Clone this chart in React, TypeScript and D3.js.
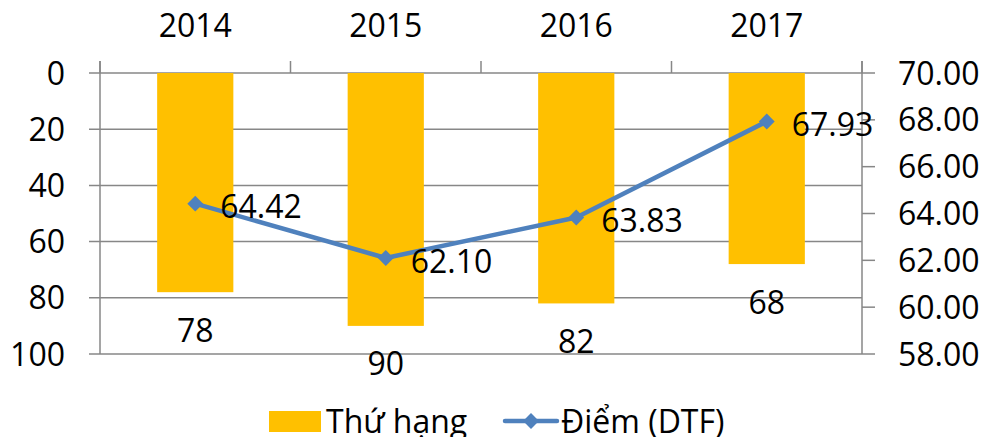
import * as d3 from "d3";
import React, { useEffect, useRef } from "react";

const years = ["2014", "2015", "2016", "2017"];
const ranks = [78, 90, 82, 68];
const scores = [64.42, 62.1, 63.83, 67.93];
const leftTicks = [0, 20, 40, 60, 80, 100];
const rightTicks = [58, 60, 62, 64, 66, 68, 70];

const App: React.FC = () => {
  const svgRef = useRef<SVGSVGElement>(null);

  useEffect(() => {
    if (!svgRef.current) return;
    const width = 984;
    const height = 437;
    const margin = { top: 73, right: 122, bottom: 83, left: 100 };
    const plotWidth = width - margin.left - margin.right;
    const plotHeight = height - margin.top - margin.bottom;
    const font = "'Open Sans', 'Liberation Sans', sans-serif";
    const fs = 32;
    const gridColor = "#878787";
    const barColor = "#FFC000";
    const lineColor = "#4F81BD";

    d3.select(svgRef.current).selectAll("*").remove();

    const svg = d3
      .select(svgRef.current)
      .attr("width", width)
      .attr("height", height)
      .style("font-family", font);

    const g = svg
      .append("g")
      .attr("transform", `translate(${margin.left},${margin.top})`);

    // Scales
    const x = d3.scaleBand().domain(years).range([0, plotWidth]).paddingInner(0.6).paddingOuter(0.3);
    const xBound = d3.scaleLinear().domain([0, years.length]).range([0, plotWidth]);
    const yLeft = d3.scaleLinear().domain([0, 100]).range([0, plotHeight]);
    const yRight = d3.scaleLinear().domain([58, 70]).range([plotHeight, 0]);

    // Grid lines + left ticks
    g.append("g")
      .selectAll("line")
      .data(leftTicks)
      .join("line")
      .attr("x1", -11)
      .attr("x2", plotWidth)
      .attr("y1", (d) => yLeft(d))
      .attr("y2", (d) => yLeft(d))
      .attr("stroke", gridColor)
      .attr("stroke-width", 1.5);

    // Left axis labels
    g.append("g")
      .selectAll("text")
      .data(leftTicks)
      .join("text")
      .attr("x", -35)
      .attr("y", (d) => yLeft(d))
      .attr("dy", "0.36em")
      .attr("text-anchor", "end")
      .style("font-size", `${fs}px`)
      .text((d) => d);

    // Vertical axis lines
    [0, plotWidth].forEach((xx) => {
      g.append("line")
        .attr("x1", xx)
        .attr("x2", xx)
        .attr("y1", -12)
        .attr("y2", plotHeight)
        .attr("stroke", gridColor)
        .attr("stroke-width", 1.5);
    });

    // Top category tick marks
    g.append("g")
      .selectAll("line")
      .data(d3.range(years.length + 1))
      .join("line")
      .attr("x1", (d) => xBound(d))
      .attr("x2", (d) => xBound(d))
      .attr("y1", -12)
      .attr("y2", 0)
      .attr("stroke", gridColor)
      .attr("stroke-width", 1.5);

    // Right ticks
    g.append("g")
      .selectAll("line")
      .data(rightTicks)
      .join("line")
      .attr("x1", plotWidth)
      .attr("x2", plotWidth + 13)
      .attr("y1", (d) => yRight(d))
      .attr("y2", (d) => yRight(d))
      .attr("stroke", gridColor)
      .attr("stroke-width", 1.5);

    g.append("g")
      .selectAll("text")
      .data(rightTicks)
      .join("text")
      .attr("x", plotWidth + 36)
      .attr("y", (d) => yRight(d))
      .attr("dy", "0.36em")
      .style("font-size", `${fs}px`)
      .text((d) => d.toFixed(2));

    // Category labels on top
    g.append("g")
      .selectAll("text")
      .data(years)
      .join("text")
      .attr("x", (d) => (x(d) || 0) + x.bandwidth() / 2)
      .attr("y", -36)
      .attr("text-anchor", "middle")
      .style("font-size", `${fs}px`)
      .text((d) => d);

    // Bars
    g.append("g")
      .selectAll("rect")
      .data(ranks)
      .join("rect")
      .attr("x", (d, i) => x(years[i]) || 0)
      .attr("y", 0)
      .attr("width", x.bandwidth())
      .attr("height", (d) => yLeft(d))
      .attr("fill", barColor);

    // Bar labels
    g.append("g")
      .selectAll("text")
      .data(ranks)
      .join("text")
      .attr("x", (d, i) => (x(years[i]) || 0) + x.bandwidth() / 2)
      .attr("y", (d) => yLeft(d) + 38)
      .attr("dy", "0.36em")
      .attr("text-anchor", "middle")
      .style("font-size", `${fs}px`)
      .text((d) => d);

    // Line
    const cx = (i: number) => (x(years[i]) || 0) + x.bandwidth() / 2;
    const line = d3
      .line<number>()
      .x((d, i) => cx(i))
      .y((d) => yRight(d));

    g.append("path")
      .datum(scores)
      .attr("fill", "none")
      .attr("stroke", lineColor)
      .attr("stroke-width", 4.5)
      .attr("stroke-linejoin", "round")
      .attr("d", line);

    const diamond = d3.symbol().type(d3.symbolDiamond2).size(160);
    g.append("g")
      .selectAll("path")
      .data(scores)
      .join("path")
      .attr("transform", (d, i) => `translate(${cx(i)},${yRight(d)}) rotate(0)`)
      .attr("d", diamond)
      .attr("fill", lineColor);

    g.append("g")
      .selectAll("text")
      .data(scores)
      .join("text")
      .attr("x", (d, i) => cx(i) + 25)
      .attr("y", (d) => yRight(d) + 3)
      .attr("dy", "0.36em")
      .style("font-size", `${fs}px`)
      .text((d) => d.toFixed(2));

    // Legend
    const legend = svg.append("g");
    legend
      .append("rect")
      .attr("x", 269)
      .attr("y", 411)
      .attr("width", 52)
      .attr("height", 21)
      .attr("fill", barColor);
    legend
      .append("text")
      .attr("x", 326)
      .attr("y", 421)
      .attr("dy", "0.36em")
      .style("font-size", `${fs}px`)
      .text("Thứ hạng");
    legend
      .append("line")
      .attr("x1", 505)
      .attr("x2", 557)
      .attr("y1", 421)
      .attr("y2", 421)
      .attr("stroke", lineColor)
      .attr("stroke-width", 4.5)
      .attr("stroke-linecap", "round");
    legend
      .append("path")
      .attr("transform", "translate(531,421)")
      .attr("d", diamond)
      .attr("fill", lineColor);
    legend
      .append("text")
      .attr("x", 561)
      .attr("y", 421)
      .attr("dy", "0.36em")
      .style("font-size", `${fs}px`)
      .text("Điểm (DTF)");
  }, []);

  return (
    <svg
      ref={svgRef}
      style={{ position: "absolute", left: 0, top: 0, display: "block" }}
    />
  );
};

export default App;
